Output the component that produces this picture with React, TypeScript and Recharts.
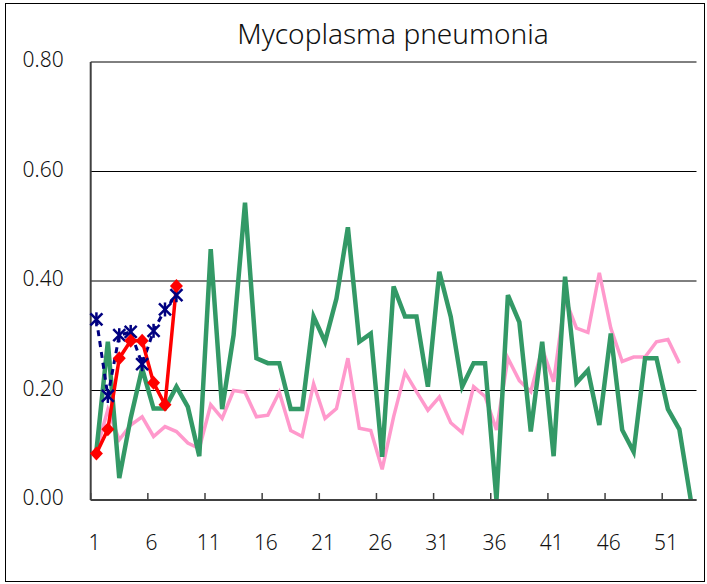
import { CartesianGrid, Line, LineChart, XAxis, YAxis } from 'recharts';

// weeks 1..53
const weeks = [
  1, 2, 3, 4, 5, 6, 7, 8, 9, 10, 11, 12, 13, 14, 15, 16, 17, 18, 19, 20, 21, 22, 23, 24, 25, 26, 27,
  28, 29, 30, 31, 32, 33, 34, 35, 36, 37, 38, 39, 40, 41, 42, 43, 44, 45, 46, 47, 48, 49, 50, 51, 52, 53,
];

const pinkSeries = [
  0.09, 0.165, 0.11, 0.137, 0.152, 0.116, 0.134, 0.125, 0.104, 0.094, 0.174, 0.149, 0.2, 0.197, 0.152,
  0.155, 0.197, 0.127, 0.116, 0.212, 0.149, 0.167, 0.259, 0.131, 0.127, 0.056, 0.152, 0.233, 0.198,
  0.164, 0.188, 0.141, 0.123, 0.207, 0.189, 0.128, 0.259, 0.218, 0.198, 0.277, 0.216, 0.368, 0.314,
  0.306, 0.415, 0.314, 0.253, 0.261, 0.261, 0.289, 0.293, 0.25, null,
];

const greenSeries = [
  0.09, 0.289, 0.04, 0.15, 0.24, 0.167, 0.167, 0.207, 0.17, 0.08, 0.458, 0.166, 0.301, 0.543, 0.259,
  0.25, 0.25, 0.166, 0.166, 0.335, 0.289, 0.368, 0.498, 0.289, 0.304, 0.079, 0.39, 0.335, 0.335, 0.207,
  0.417, 0.335, 0.207, 0.25, 0.25, 0.0, 0.374, 0.325, 0.125, 0.289, 0.08, 0.408, 0.214, 0.237, 0.137,
  0.304, 0.128, 0.088, 0.259, 0.259, 0.166, 0.129, 0.0,
];

const blueSeries = [0.33, 0.19, 0.301, 0.307, 0.248, 0.309, 0.348, 0.374];
const redSeries = [0.085, 0.129, 0.259, 0.291, 0.291, 0.214, 0.174, 0.391];

const yTicks = [0, 0.2, 0.4, 0.6, 0.8];

const data = weeks.map((w, i) => ({
  week: w,
  pink: pinkSeries[i],
  green: greenSeries[i],
  blue: i < blueSeries.length ? blueSeries[i] : null,
  red: i < redSeries.length ? redSeries[i] : null,
}));

const W = 707;
const H = 584;
const margin = { top: 62, right: 10.5, left: 10.7, bottom: 34 };
const Y_W = 80;
const HALF = (W - margin.left - margin.right - Y_W) / weeks.length / 2;
const FONT = '"Noto Sans", sans-serif';

const XTick = (props: any) => {
  const { x, y, payload } = props;
  return (
    <g>
      <line x1={x - HALF} x2={x - HALF} y1={y} y2={y - 7} stroke="#404040" strokeWidth={1.5} />
      <text x={x - 2} y={y + 42} textAnchor="middle" dominantBaseline="central" fontSize={21} fill="#111" fontFamily={FONT} fontWeight={300}>
        {payload.value}
      </text>
    </g>
  );
};

const YTick = (props: any) => {
  const { x, y, payload } = props;
  return (
    <text x={x - 27} y={y - 3} textAnchor="end" dominantBaseline="central" fontSize={21} fill="#111" fontFamily={FONT} fontWeight={300}>
      {Number(payload.value).toFixed(2)}
    </text>
  );
};

const Diamond = (p: any) => {
  if (p.value == null) return <g key={p.index} />;
  const { cx, cy } = p;
  return <polygon key={p.index} points={`${cx},${cy - 7} ${cx + 6.5},${cy} ${cx},${cy + 7} ${cx - 6.5},${cy}`} fill="#FF0000" />;
};

const Star = (p: any) => {
  if (p.value == null) return <g key={p.index} />;
  const { cx, cy } = p;
  const s = 6;
  return (
    <g key={p.index} stroke="#000080" strokeWidth={2.5}>
      <line x1={cx - s} y1={cy - s} x2={cx + s} y2={cy + s} />
      <line x1={cx - s} y1={cy + s} x2={cx + s} y2={cy - s} />
      <line x1={cx} y1={cy - s - 1} x2={cx} y2={cy + s + 1} />
    </g>
  );
};

export default function App() {
  return (
    <div style={{ position: 'absolute', left: 0, top: 0, width: W, height: H, background: '#fff' }}>
      <div
        style={{
          position: 'absolute',
          left: 5,
          top: 3,
          width: 700,
          height: 579,
          border: '1px solid #000',
          boxSizing: 'border-box',
        }}
      />
      <div
        style={{
          position: 'absolute',
          left: 393,
          top: 15,
          transform: 'translateX(-50%)',
          fontFamily: FONT,
          fontSize: 28,
          fontWeight: 300,
          lineHeight: '36px',
          whiteSpace: 'nowrap',
          color: '#111',
        }}
      >
        Mycoplasma pneumonia
      </div>
      <div style={{ position: 'absolute', left: 0, top: 0 }}>
        <LineChart width={W} height={H} data={data} margin={margin}>
          <CartesianGrid vertical={false} stroke="#000" strokeWidth={1} />
          <XAxis
            dataKey="week"
            interval={4}
            padding={{ left: HALF, right: HALF }}
            height={50}
            tickSize={0}
            tickMargin={0}
            tickLine={false}
            tick={<XTick />}
            axisLine={{ stroke: '#404040', strokeWidth: 2 }}
          />
          <XAxis
            xAxisId="top"
            dataKey="week"
            orientation="top"
            height={0}
            tick={false}
            tickLine={false}
            padding={{ left: HALF, right: HALF }}
            axisLine={{ stroke: '#808080', strokeWidth: 2 }}
          />
          <YAxis
            domain={[0, 0.8]}
            ticks={yTicks}
            width={Y_W}
            tickSize={0}
            tickMargin={0}
            tickLine={false}
            tick={<YTick />}
            axisLine={{ stroke: '#404040', strokeWidth: 2 }}
          />
          <YAxis
            yAxisId="right"
            orientation="right"
            domain={[0, 0.8]}
            width={0}
            tick={false}
            tickLine={false}
            axisLine={{ stroke: '#808080', strokeWidth: 2 }}
          />
          <Line dataKey="pink" stroke="#FF99CC" strokeWidth={3.5} dot={false} isAnimationActive={false} />
          <Line dataKey="green" stroke="#339966" strokeWidth={4.5} dot={false} isAnimationActive={false} />
          <Line
            dataKey="blue"
            stroke="#000080"
            strokeWidth={3}
            strokeDasharray="6 5"
            dot={(p: any) => <Star {...p} key={p.index} />}
            isAnimationActive={false}
          />
          <Line
            dataKey="red"
            stroke="#FF0000"
            strokeWidth={3.5}
            dot={(p: any) => <Diamond {...p} key={p.index} />}
            isAnimationActive={false}
          />
        </LineChart>
      </div>
    </div>
  );
}
